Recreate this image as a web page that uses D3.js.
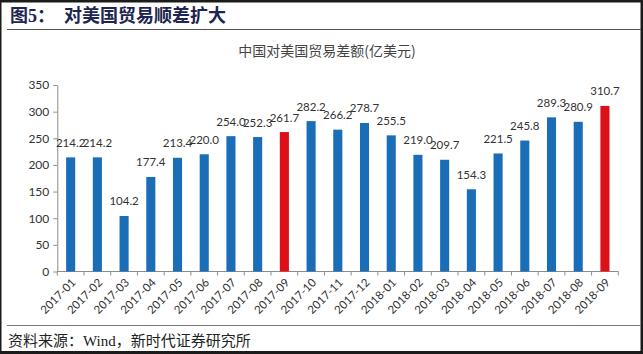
<!DOCTYPE html>
<html>
<head>
<meta charset="utf-8">
<script src="https://cdn.jsdelivr.net/npm/d3@7"></script>
<style>
  html, body { margin: 0; padding: 0; background: #fff; }
  svg { display: block; }
</style>
</head>
<body>
<div id="graph"></div>
<script>
const width = 643, height = 354;

const months = ["2017-01", "2017-02", "2017-03", "2017-04", "2017-05", "2017-06", "2017-07",
    "2017-08", "2017-09", "2017-10", "2017-11", "2017-12", "2018-01", "2018-02", "2018-03",
    "2018-04", "2018-05", "2018-06", "2018-07", "2018-08", "2018-09"];
const surplus = [214.2, 214.2, 104.2, 177.4, 213.4, 220.0, 254.0, 252.3, 261.7, 282.2, 266.2,
    278.7, 255.5, 219.0, 209.7, 154.3, 221.5, 245.8, 289.3, 280.9, 310.7];
const highlighted = ["2017-09", "2018-09"];
const yTicks = [0, 50, 100, 150, 200, 250, 300, 350];

const blue = "#1a6db7", red = "#dd1018";
const axisColor = "#8c8c8c", textColor = "#333";
const numFont = "Lato, 'Open Sans', sans-serif";
const cjkSerif = "'Liberation Serif', 'Noto Sans CJK SC', serif";

const svg = d3.select("#graph")
    .append("svg")
    .attr("width", width)
    .attr("height", height);

// dark frame of the screenshot
svg.append("rect").attr("x", 0).attr("y", 0).attr("width", width).attr("height", height).attr("fill", "#1b1b1b");
svg.append("rect").attr("x", 1.5).attr("y", 2.5).attr("width", width - 4).attr("height", height - 5.5).attr("fill", "#fff");

// header
svg.append("text")
    .attr("x", 10).attr("y", 22)
    .attr("font-family", cjkSerif)
    .attr("font-weight", "bold")
    .attr("font-size", 18)
    .attr("fill", "#1d2550")
    .attr("xml:space", "preserve")
    .text("图5：  对美国贸易顺差扩大");
svg.append("line")
    .attr("x1", 7).attr("x2", width - 2).attr("y1", 29.5).attr("y2", 29.5)
    .attr("stroke", "#555").attr("stroke-width", 1);

// footer
svg.append("line")
    .attr("x1", 7).attr("x2", width - 2).attr("y1", 325.5).attr("y2", 325.5)
    .attr("stroke", "#777").attr("stroke-width", 1);
svg.append("text")
    .attr("x", 8).attr("y", 346)
    .attr("font-family", cjkSerif)
    .attr("font-size", 15)
    .attr("fill", "#222")
    .text("资料来源：Wind，新时代证券研究所");

// chart title
svg.append("text")
    .attr("x", 327).attr("y", 56)
    .attr("text-anchor", "middle")
    .attr("font-family", "'Noto Sans CJK SC', sans-serif")
    .attr("font-size", 14)
    .attr("fill", "#444")
    .text("中国对美国贸易差额(亿美元)");

const x = d3.scaleBand().domain(months).range([57.3, 618.3]).paddingInner(0.66).paddingOuter(0.33);
const y = d3.scaleLinear().domain([0, 350]).range([271.5, 85]);

// y axis
const yAxis = svg.append("g")
    .attr("transform", "translate(57.3,0)")
    .call(d3.axisLeft(y).tickValues(yTicks).tickSizeInner(4).tickSizeOuter(0).tickPadding(4));
yAxis.select(".domain").attr("stroke", axisColor);
yAxis.selectAll(".tick line").attr("stroke", axisColor);
yAxis.selectAll(".tick text")
    .attr("font-family", numFont).attr("font-size", 12).attr("fill", textColor);

// x axis: ticks sit between categories
const xAxis = svg.append("g").attr("transform", "translate(0," + y(0) + ")");
xAxis.append("line")
    .attr("x1", x.range()[0]).attr("x2", x.range()[1]).attr("y1", 0).attr("y2", 0)
    .attr("stroke", axisColor);
const tickX = i => x.range()[0] + i * (x.range()[1] - x.range()[0]) / months.length;
xAxis.selectAll("line.tick")
    .data(d3.range(months.length + 1))
    .enter().append("line")
    .attr("class", "tick")
    .attr("x1", tickX)
    .attr("x2", tickX)
    .attr("y1", 0).attr("y2", 4)
    .attr("stroke", axisColor);
xAxis.selectAll("text")
    .data(months)
    .enter().append("text")
    .attr("transform", d => "translate(" + (x(d) + x.bandwidth() / 2 + 3) + ",9) rotate(-45)")
    .attr("text-anchor", "end")
    .attr("dy", "0.35em")
    .attr("font-family", numFont).attr("font-size", 11.5).attr("fill", textColor)
    .text(d => d);

// bars
svg.selectAll("rect.bar")
    .data(months)
    .enter().append("rect")
    .attr("class", "bar")
    .attr("x", d => x(d))
    .attr("y", (d, i) => y(surplus[i]))
    .attr("width", x.bandwidth())
    .attr("height", (d, i) => y(0) - y(surplus[i]))
    .attr("fill", d => highlighted.includes(d) ? red : blue);

// value labels
svg.selectAll("text.value")
    .data(months)
    .enter().append("text")
    .attr("class", "value")
    .attr("x", d => x(d) + x.bandwidth() / 2)
    .attr("y", (d, i) => y(surplus[i]) - 10.5)
    .attr("text-anchor", "middle")
    .attr("font-family", numFont).attr("font-size", 11.5).attr("fill", textColor)
    .text((d, i) => surplus[i].toFixed(1));
</script>
</body>
</html>
